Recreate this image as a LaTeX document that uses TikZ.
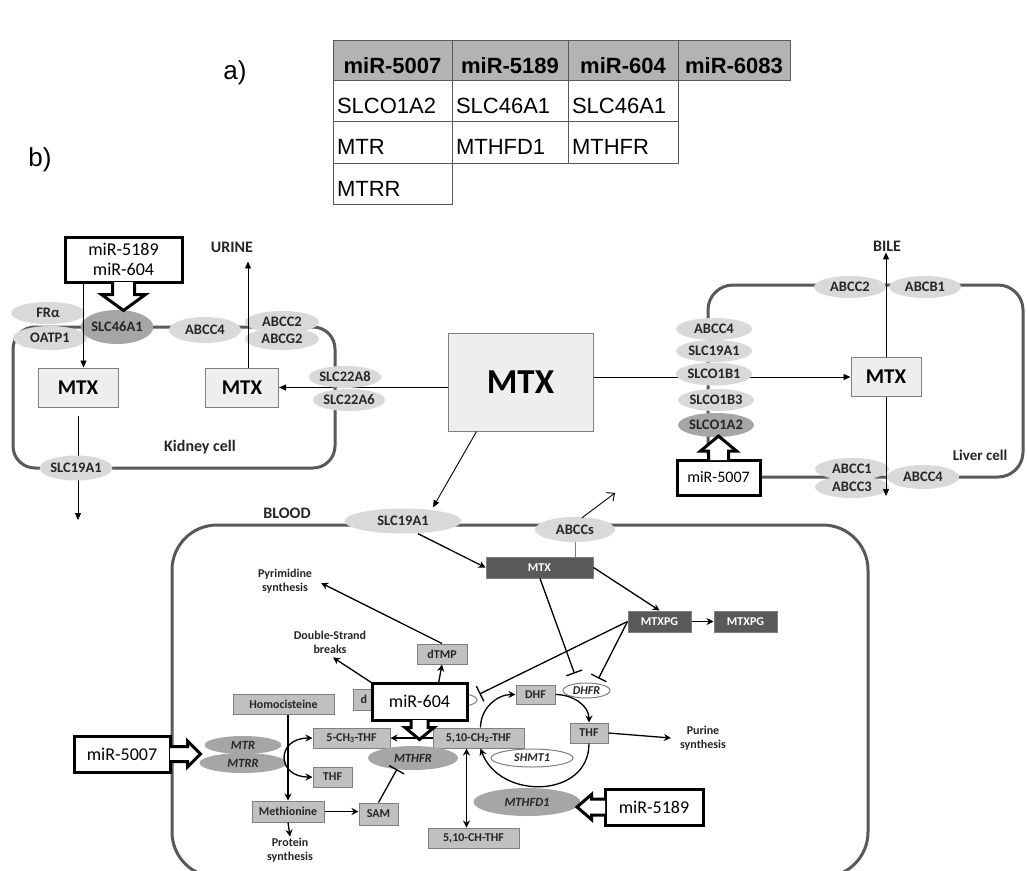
\documentclass[tikz,border=0pt]{standalone}
\usepackage{fontspec}
\setmainfont{Carlito}
\newfontfamily\tabfont{Liberation Sans}
\usetikzlibrary{arrows.meta,shapes.geometric,calc}
\pgfdeclarelayer{bg}
\pgfsetlayers{bg,main}
\definecolor{lg}{HTML}{D9D9D9}
\definecolor{dg}{HTML}{A6A6A6}
\definecolor{boxfill}{HTML}{C0C0C0}
\definecolor{boxline}{HTML}{7F7F7F}
\definecolor{dark}{HTML}{595959}
\definecolor{pale}{HTML}{EEEEEE}
\definecolor{txt}{HTML}{262626}
\definecolor{hdr}{HTML}{B3B3B3}
\newcommand\fsz[2]{\fontsize{#1}{#2}\selectfont}

\begin{document}
\begin{tikzpicture}[x=1pt,y=-1pt,
  memb/.style={line width=3pt, draw=dark},
  lgE/.style={ellipse, fill=lg, inner sep=0pt, text=txt, font=\bfseries\fsz{14.5}{16}},
  dgE/.style={lgE, fill=dg},
  itE/.style={ellipse, fill=dg, inner sep=0pt, text=txt, font=\bfseries\itshape\fsz{12.5}{14}},
  wE/.style={ellipse, fill=white, draw=boxline, line width=1pt, inner sep=0pt, text=txt, font=\bfseries\itshape\fsz{12}{13}},
  mtxbox/.style={rectangle, fill=pale, draw=boxline, line width=1pt, inner sep=0pt, text=black, font=\bfseries\fsz{21}{24}},
  mirbox/.style={rectangle, fill=white, draw=black, line width=3pt, inner sep=0pt, align=center, font=\fsz{18}{20}},
  callout/.style={fill=white, draw=black, line width=3pt, line join=miter},
  pbox/.style={rectangle, fill=boxfill, draw=boxline, line width=1pt, inner sep=0pt, text=txt, font=\bfseries\fsz{12}{13}},
  dbox/.style={pbox, fill=dark, text=white},
  lbl/.style={align=center, text=txt, inner sep=1pt, font=\bfseries\fsz{12}{14}},
  ttl/.style={text=txt, inner sep=1pt, font=\bfseries\fsz{16}{18}},
  thinarr/.style={line width=0.9pt, draw=black, -{Triangle[length=7pt,width=6pt]}},
  patharr/.style={line width=1.3pt, draw=black, -{Stealth[length=7pt,width=7pt]}},
  bothpath/.style={line width=1.3pt, draw=black, {Stealth[length=7pt,width=7pt]}-{Stealth[length=7pt,width=7pt]}},
  inhib/.style={line width=1.3pt, draw=black, -{Bar[width=17pt]}},
  tcell/.style={draw=dark, line width=1pt, minimum height=41.5pt, inner xsep=4pt, inner ysep=0pt,
    text height=25pt, text depth=0pt, text width=#1, align=left, font=\tabfont\fsz{22}{24}},
  thead/.style={tcell=#1, fill=hdr, minimum height=40pt, text height=26pt, align=center, font=\tabfont\bfseries\fsz{22}{24}},
  panel/.style={inner sep=0pt, font=\tabfont\fsz{26}{28}},
]
\useasboundingbox (0,0) rectangle (1027,870);

% ---------- panel labels ----------
\node[panel] (pa) at (235,73) {a)};
\node[panel] (pb) at (40,160) {b)};

% ---------- table ----------
\node[thead=111pt] (h1) at (392.5,60) {miR-5007};
\node[thead=108pt] (h2) at (510,60) {miR-5189};
\node[thead=102pt] (h3) at (623,60) {miR-604};
\node[thead=104pt] (h4) at (734,60) {miR-6083};
\node[tcell=111pt] (r11) at (392.5,100.75) {SLCO1A2};
\node[tcell=108pt] (r12) at (510,100.75) {SLC46A1};
\node[tcell=102pt] (r13) at (623,100.75) {SLC46A1};
\node[tcell=111pt] (r21) at (392.5,142.25) {MTR};
\node[tcell=108pt] (r22) at (510,142.25) {MTHFD1};
\node[tcell=102pt] (r23) at (623,142.25) {MTHFR};
\node[tcell=111pt] (r31) at (392.5,183.75) {MTRR};

% ---------- kidney cell ----------
\node[lgE, minimum width=74pt, minimum height=22pt] (fra) at (48,313) {FRα};
\node[lgE, minimum width=74pt, minimum height=24pt] (oatp1) at (50,338) {OATP1};
\node[dgE, minimum width=72pt, minimum height=34pt] (slc46) at (117,327) {SLC46A1};
\node[lgE, minimum width=72pt, minimum height=26pt] (abcc4k) at (205,330) {ABCC4};
\node[lgE, minimum width=74pt, minimum height=22pt] (abcc2k) at (282,322) {ABCC2};
\node[lgE, minimum width=74pt, minimum height=22pt] (abcg2k) at (282,339) {ABCG2};
\node[mtxbox, minimum width=80pt, minimum height=39pt] (mtxk1) at (78,387.5) {MTX};
\node[mtxbox, minimum width=73pt, minimum height=39pt] (mtxk2) at (242,387.5) {MTX};
\node[lgE, minimum width=68pt, minimum height=22pt] (slc22a8) at (345,377) {SLC22A8};
\node[lgE, minimum width=70pt, minimum height=22pt] (slc22a6) at (349,400) {SLC22A6};
\node[lgE, minimum width=72pt, minimum height=25pt] (slc19k) at (76,468) {SLC19A1};
\node[ttl] (kcell) at (200,447) {Kidney cell};
\node[ttl] (urine) at (232,247) {URINE};
\node[mirbox, minimum width=117pt, minimum height=45pt] (m5189k) at (123.5,259.5) {miR-5189\\miR-604};
\coordinate (kout) at (78,520);

% ---------- central MTX ----------
\node[mtxbox, minimum width=145pt, minimum height=98pt, font=\bfseries\fsz{35}{40}] (bigmtx) at (520.5,382) {MTX};

% ---------- liver cell ----------
\node[lgE, minimum width=76pt, minimum height=22pt] (abcc4l) at (714,329) {ABCC4};
\node[lgE, minimum width=76pt, minimum height=22pt] (slc19l) at (714,351) {SLC19A1};
\node[lgE, minimum width=76pt, minimum height=23pt] (slco1b1) at (714,374) {SLCO1B1};
\node[lgE, minimum width=76pt, minimum height=22pt] (slco1b3) at (716,400) {SLCO1B3};
\node[dgE, minimum width=76pt, minimum height=24pt] (slco1a2) at (716,425) {SLCO1A2};
\node[lgE, minimum width=72pt, minimum height=22pt] (abcc2l) at (850,287) {ABCC2};
\node[lgE, minimum width=72pt, minimum height=22pt] (abcb1) at (925,287) {ABCB1};
\node[mtxbox, minimum width=70pt, minimum height=39pt] (lmtx) at (886,377) {MTX};
\node[ttl] (bile) at (887,246) {BILE};
\node[lgE, minimum width=74pt, minimum height=22pt] (abcc1) at (852,469) {ABCC1};
\node[lgE, minimum width=74pt, minimum height=22pt] (abcc3) at (852,487) {ABCC3};
\node[lgE, minimum width=72pt, minimum height=24pt] (abcc4r) at (923,477) {ABCC4};
\node[ttl, font=\bfseries\fsz{15}{17}] (lcell) at (980,455) {Liver cell};
\node[mirbox, minimum width=83pt, minimum height=35pt, font=\fsz{16}{18}] (m5007r) at (718.5,477.5) {miR-5007};
\coordinate (lout) at (886,496);

% ---------- blood ----------
\node[ttl] (blood) at (287,513) {BLOOD};
\node[lgE, minimum width=117pt, minimum height=25pt] (slc19b) at (403,521) {SLC19A1};
\node[lgE, minimum width=80pt, minimum height=25pt] (abccs) at (575,529.5) {ABCCs};
\coordinate (about) at (615,493);
\node[dbox, minimum width=107pt, minimum height=21pt] (mtxd) at (539.5,567.5) {MTX};
\node[dbox, minimum width=63pt, minimum height=21pt] (mtxpg1) at (659.5,621.5) {MTXPG};
\node[dbox, minimum width=63pt, minimum height=21pt] (mtxpg2) at (745.5,621.5) {MTXPG};
\node[wE, minimum width=47pt, minimum height=15pt] (dhfr) at (586.5,690.5) {DHFR};
\node[pbox, minimum width=39pt, minimum height=19pt] (dhf) at (535.5,694.5) {DHF};
\node[pbox, minimum width=38pt, minimum height=20pt] (thfr) at (589,733) {THF};
\node[pbox, minimum width=91pt, minimum height=20pt] (ch2) at (478.5,738) {5,10-CH\textsubscript{2}-THF};
\node[wE, minimum width=82pt, minimum height=18pt] (shmt1) at (532,758) {SHMT1};
\node[itE, minimum width=107pt, minimum height=28pt] (mthfd1) at (527,802) {MTHFD1};
\node[pbox, minimum width=91pt, minimum height=20pt] (chthf) at (473.5,838) {5,10-CH-THF};
\node[lbl] (pur) at (703,738) {Purine\\synthesis};
\node[pbox, minimum width=50pt, minimum height=20pt] (dtmp) at (442,654) {dTMP};
\node[pbox, minimum width=55pt, minimum height=21pt, text width=40pt, align=left] (dump) at (380.5,699.5) {d};
\node[wE, minimum width=60pt, minimum height=16pt] (tyms) at (447,700) {};
\node[lbl] (pyr) at (285,581) {Pyrimidine\\synthesis};
\node[lbl] (dsb) at (330,642) {Double-Strand\\breaks};
\node[pbox, minimum width=101pt, minimum height=20pt] (homo) at (283.5,704) {Homocisteine};
\node[pbox, minimum width=77pt, minimum height=20pt] (ch3) at (351.5,738) {5-CH\textsubscript{3}-THF};
\node[pbox, minimum width=39pt, minimum height=20pt] (thfl) at (332.5,777) {THF};
\node[itE, minimum width=77pt, minimum height=18pt] (mtr) at (243,745) {MTR};
\node[itE, minimum width=87pt, minimum height=20pt] (mtrr) at (243,763) {MTRR};
\node[itE, minimum width=90pt, minimum height=24pt] (mthfr) at (413,758) {MTHFR};
\node[pbox, minimum width=72pt, minimum height=21pt] (meth) at (288,811.5) {Methionine};
\node[pbox, minimum width=39pt, minimum height=22pt] (sam) at (378.5,814) {SAM};
\node[lbl] (prot) at (290,850) {Protein\\synthesis};

% white page, membranes and connectors running underneath the transporters
\begin{pgfonlayer}{bg}
  \fill[white] (0,0) rectangle (1027,870);
  \draw[memb, rounded corners=22pt] (13,327) rectangle (335,468);
  \draw[memb, rounded corners=25pt] (708,285) rectangle (1023,477);
  \begin{scope}
    \clip (0,0) rectangle (1027,870);
    \draw[memb, rounded corners=45pt] (172,525) rectangle (868,877);
  \end{scope}
  \draw[thinarr, shorten <=8pt] (mtxk1.south) -- (mtxk1.south |- kout);
  \draw[thinarr] (bigmtx.west |- mtxk2.east) -- (mtxk2.east);
  \draw[thinarr] (bigmtx.east |- lmtx.west) -- (lmtx.west);
\end{pgfonlayer}

% kidney and liver transport arrows
\draw[thinarr] ($(m5189k.south west)+(20,0)$) coordinate (k0) -- (k0 |- mtxk1.north);
\draw[thinarr, shorten >=8pt] ($(mtxk2.north)+(6,0)$) coordinate (k2) -- (k2 |- urine.south);
\draw[thinarr] (lmtx.north) -- (lmtx.north |- bile.south);
\draw[thinarr] (lmtx.south) -- (lmtx.south |- lout);
\draw[thinarr] ($(bigmtx.south west)+(29,0)$) -- ($(slc19b.north)+(30,-1)$);
\draw[line width=0.9pt, -{Straight Barb[length=6pt,width=11pt]}] ($(abccs.north)+(7,1)$) -- (about);

% folate pathway
\draw[patharr] ($(slc19b.south)+(15,0)$) -- (mtxd.west);
\draw[line width=1pt, draw=boxline] (abccs.south) -- (abccs.south |- mtxd.north);
\draw[patharr] (mtxd.east) -- (mtxpg1.north);
\draw[patharr] (mtxpg1.east) -- (mtxpg2.west);
\draw[inhib] ($(mtxd.south)+(0.5,0)$) -- ($(dhfr.north)+(-12,-9)$);
\draw[inhib] (mtxpg1.west) -- ($(dhfr.north)+(12,-4)$);
\draw[inhib] (mtxpg1.west) -- ($(tyms.east)+(2,-6)$);
\draw[patharr] ($(ch2.north)+(2,0)$) to[out=90,in=180] (dhf.west);
\draw[patharr] (dhf.east) to[out=0,in=90] (thfr.north);
\draw[patharr] (thfr.south) to[out=-90,in=-70,looseness=1.3] ($(ch2.south)+(2,0)$);
\draw[patharr] (thfr.east) -- ($(pur.west)+(-8,0)$);
\draw[bothpath] ($(ch2.south)+(-12,0)$) coordinate (c2) -- (c2 |- chthf.north);
\draw[patharr] (ch2.west) -- (ch3.east);
\draw[patharr] (dump.north) -- ($(dsb.south)+(3,3)$);
\draw[patharr] ($(tyms.north)+(-10,0)$) -- (dtmp.south);
\draw[patharr] (dtmp.north) -- ($(pyr.east)+(8,2)$);
\draw[patharr] (homo.south -| meth.north) -- (meth.north);
\draw[patharr] (meth.east) -- (meth.east -| sam.west);
\draw[patharr] (meth.south) -- (prot.north);
\draw[bothpath] (ch3.west) to[out=180,in=180,looseness=2.4] (thfl.west);
\draw[inhib] (sam.north) -- ($(mthfr.south)+(-16,-1)$);

% microRNA call-outs
\node[mirbox, minimum width=95pt, minimum height=37pt] (m604) at (419.5,701.5) {miR-604};
\node[mirbox, minimum width=96pt, minimum height=36pt] (m5007l) at (122,754) {miR-5007};
\node[mirbox, minimum width=98pt, minimum height=36pt] (m5189b) at (654,807) {miR-5189};

\filldraw[callout] ($(m5189k.south)+(-11,-1.5)$) -- ++(0,12.5) -- ++(-11,0) -- ++(22,16) -- ++(22,-16) -- ++(-11,0) -- ++(0,-12.5);
\filldraw[callout] ($(m5007r.north)+(-10,1.5)$) -- ++(0,-9) -- ++(-8,0) -- ++(18,-15) -- ++(18,15) -- ++(-8,0) -- ++(0,9);
\filldraw[callout] ($(m604.south)+(-8.5,-1.5)$) -- ++(0,7.5) -- ++(-6,0) -- ++(14.5,12) -- ++(14.5,-12) -- ++(-6,0) -- ++(0,-7.5);
\filldraw[callout] ($(m5007l.east)+(-1.5,-7.5)$) -- ++(17.5,0) -- ++(0,-5.5) -- ++(13,13) -- ++(-13,13) -- ++(0,-5.5) -- ++(-17.5,0);
\filldraw[callout] ($(m5189b.west)+(1.5,-8)$) -- ++(-13.5,0) -- ++(0,-4.5) -- ++(-14.5,12.5) -- ++(14.5,12.5) -- ++(0,-4.5) -- ++(13.5,0);
\end{tikzpicture}
\end{document}
